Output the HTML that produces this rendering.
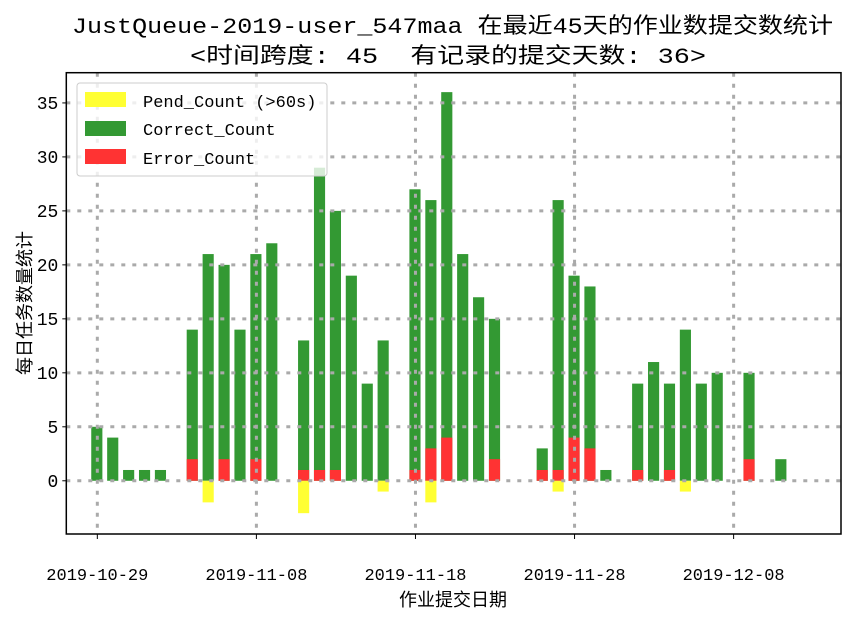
<!DOCTYPE html>
<html><head><meta charset="utf-8"><style>
body{margin:0;background:#fff;}
svg{display:block;font-family:"Liberation Mono","Noto Sans CJK SC","WenQuanYi Zen Hei",monospace;}
text{white-space:pre;}
</style></head><body>
<svg id="chart" width="850" height="618" xmlns="http://www.w3.org/2000/svg">
<text x="72" y="33" font-size="22" textLength="761" lengthAdjust="spacingAndGlyphs" fill="#000">JustQueue-2019-user_547maa 在最近45天的作业数提交数统计</text>
<text x="190" y="63" font-size="22" textLength="516" lengthAdjust="spacingAndGlyphs" fill="#000">&lt;时间跨度: 45  有记录的提交天数: 36&gt;</text>
<g id="marks"></g>
<g id="grid"></g>
<rect x="66.3" y="72.7" width="774.7" height="461.3" fill="none" stroke="#000" stroke-width="1.5"/>
<g id="axes"></g>
<text x="453" y="606" font-size="18" text-anchor="middle">作业提交日期</text>
<text transform="translate(31,303) rotate(-90)" font-size="18" text-anchor="middle">每日任务数量统计</text>
<g>
<rect x="77" y="83" width="250" height="93" rx="3" fill="#fff" fill-opacity="0.8" stroke="#ccc"/>
<rect x="85" y="92" width="41" height="15" fill="#ffff33"/>
<text x="143" y="107" font-size="17">Pend_Count (&gt;60s)</text>
<rect x="85" y="121" width="41" height="15" fill="#339933"/>
<text x="143" y="135" font-size="17">Correct_Count</text>
<rect x="85" y="149" width="41" height="15" fill="#ff3333"/>
<text x="143" y="164" font-size="17">Error_Count</text>
</g>
</svg>
<script>
const days = [0,1,2,3,4,6,7,8,9,10,11,13,14,15,16,17,18,20,21,22,23,24,25,28,29,30,31,32,34,35,36,37,38,39,41,43];
const totals = [5,4,1,1,1,14,21,20,14,21,22,13,29,25,19,9,13,27,26,36,21,17,15,3,26,19,18,1,9,11,9,14,9,10,10,2];
const errors = [0,0,0,0,0,2,0,2,0,2,0,1,1,1,0,0,0,1,3,4,0,0,2,1,1,4,3,0,1,0,1,0,0,0,2,0];
const pends = [0,0,0,0,0,0,2,0,0,0,0,3,0,0,0,0,1,0,2,0,0,0,0,0,1,0,0,0,0,0,0,1,0,0,0,0];
const xTickDays = [0,10,20,30,40];
const xTickLabels = ["2019-10-29","2019-11-08","2019-11-18","2019-11-28","2019-12-08"];
const yTicks = [0,5,10,15,20,25,30,35];

const L=66.3,R=841,T=72.7,B=534,xmin=-1.95,xmax=46.75,ymin=-4.93,ymax=37.8;
const xs=d=>L+(d-xmin)/(xmax-xmin)*(R-L);
const ys=v=>B-(v-ymin)/(ymax-ymin)*(B-T);
const NS="http://www.w3.org/2000/svg";
function mk(tag,attrs,parent){const e=document.createElementNS(NS,tag);for(const k in attrs)e.setAttribute(k,attrs[k]);parent.appendChild(e);return e;}
const marks=document.getElementById('marks'),grid=document.getElementById('grid'),axes=document.getElementById('axes');
const bw=(xs(0.7)-xs(0));
days.forEach((d,i)=>{
  const x=xs(d)-bw/2-0.5;
  let r=mk('rect',{x:x,y:ys(totals[i]),width:bw,height:ys(0)-ys(totals[i]),fill:'#339933'},marks);
  
  
  if(errors[i]>0){r=mk('rect',{x:x,y:ys(errors[i]),width:bw,height:ys(0)-ys(errors[i]),fill:'#ff3333'},marks);
  
  }
  if(pends[i]>0){r=mk('rect',{x:x,y:ys(0),width:bw,height:ys(-pends[i])-ys(0),fill:'#ffff33'},marks);
  
  }
});
yTicks.forEach(v=>{
  let g=mk('line',{x1:L,x2:R,y1:ys(v),y2:ys(v),stroke:'#aaa','stroke-width':3,'stroke-dasharray':'4,7'},grid);
  
  
  let t=mk('line',{x1:L-4,x2:L,y1:ys(v),y2:ys(v),stroke:'#000','stroke-width':1},axes);
  
  
  let tx=mk('text',{x:L-8,y:ys(v)+6,'font-size':18,'text-anchor':'end'},axes);
  tx.textContent=v;
  
  
});
xTickDays.forEach((d,i)=>{
  let g=mk('line',{x1:xs(d),x2:xs(d),y1:T,y2:B,stroke:'#aaa','stroke-width':3,'stroke-dasharray':'4,7'},grid);
  
  
  let t=mk('line',{x1:xs(d),x2:xs(d),y1:B,y2:B+5,stroke:'#000','stroke-width':1},axes);
  
  
  let tx=mk('text',{x:xs(d),y:580,'font-size':17,'text-anchor':'middle'},axes);
  tx.textContent=xTickLabels[i];
  
  
});
</script>
</body></html>
